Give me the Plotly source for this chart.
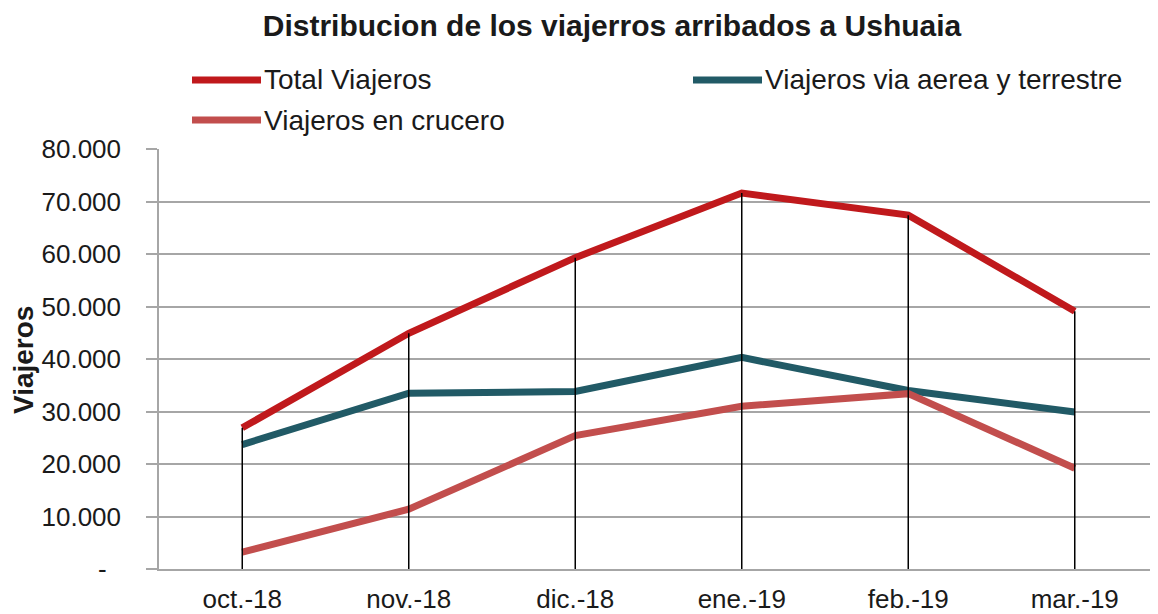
import plotly.graph_objects as go

categories = ["oct.-18", "nov.-18", "dic.-18", "ene.-19", "feb.-19", "mar.-19"]
total_viajeros = [26900, 44900, 59300, 71600, 67400, 49100]
via_aerea_terrestre = [23700, 33500, 33800, 40300, 34000, 29900]
en_crucero = [3200, 11400, 25400, 31000, 33400, 19200]
tick_vals = [0, 10000, 20000, 30000, 40000, 50000, 60000, 70000, 80000]
tick_text = ["-\u00a0\u00a0", "10.000", "20.000", "30.000", "40.000",
             "50.000", "60.000", "70.000", "80.000"]

C_TOTAL = "#C0191C"
C_AEREA = "#215A66"
C_CRUC = "#C24E4D"
FONT = "Liberation Sans, Arial, sans-serif"
TXT = "#1a1a1a"

# page body has an 8px margin; figure placed at (8, 8)
OFF = 8
W, H = 1158 - OFF, 614 - OFF
L, R, T, B = 159 - OFF, 0, 149 - OFF, 614 - 569
pw, ph = W - L - R, H - T - B


def px(x):  # page pixel -> paper x
    return (x - OFF - L) / pw


def py(y):  # page pixel -> paper y
    return (H - B - (y - OFF)) / ph


fig = go.Figure()
fig.add_trace(go.Scatter(x=categories, y=total_viajeros, mode="lines",
                         line=dict(color=C_TOTAL, width=7), name="Total Viajeros",
                         showlegend=False))
fig.add_trace(go.Scatter(x=categories, y=via_aerea_terrestre, mode="lines",
                         line=dict(color=C_AEREA, width=7),
                         name="Viajeros via aerea y terrestre", showlegend=False))
fig.add_trace(go.Scatter(x=categories, y=en_crucero, mode="lines",
                         line=dict(color=C_CRUC, width=7), name="Viajeros en crucero",
                         showlegend=False))

# drop lines from the highest series to the axis
dx, dy = [], []
for c, v in zip(categories, total_viajeros):
    dx += [c, c, None]
    dy += [0, v, None]
fig.add_trace(go.Scatter(x=dx, y=dy, mode="lines", line=dict(color="black", width=1.5),
                         showlegend=False, hoverinfo="skip"))

# manual legend
legend_items = [
    ("Total Viajeros", C_TOTAL, 192, 80),
    ("Viajeros via aerea y terrestre", C_AEREA, 693, 80),
    ("Viajeros en crucero", C_CRUC, 192, 120),
]
shapes = []
annotations = []
for text, col, x0, yc in legend_items:
    shapes.append(dict(type="line", xref="paper", yref="paper",
                       x0=px(x0), x1=px(x0 + 69), y0=py(yc), y1=py(yc),
                       line=dict(color=col, width=7)))
    annotations.append(dict(text=text, xref="paper", yref="paper",
                            x=px(x0 + 70), y=py(yc), xanchor="left", yanchor="middle",
                            showarrow=False, font=dict(family=FONT, size=28, color=TXT)))

annotations.append(dict(text="<b>Viajeros</b>", xref="paper", yref="paper",
                        x=px(23), y=py(360), xanchor="center", yanchor="middle",
                        textangle=-90, showarrow=False,
                        font=dict(family=FONT, size=28, color=TXT)))

fig.update_layout(
    width=W, height=H,
    margin=dict(l=L, r=R, t=T, b=B, pad=0),
    paper_bgcolor="white", plot_bgcolor="white",
    showlegend=False,
    title=dict(text="<b>Distribucion de los viajerros arribados a Ushuaia</b>",
               x=(612 - OFF) / W, xanchor="center", y=1 - (25 - OFF) / H, yanchor="middle",
               font=dict(family=FONT, size=30, color=TXT)),
    shapes=shapes,
    annotations=annotations,
    xaxis=dict(type="category", range=[-0.5, 5.5], showgrid=False,
               showline=True, linecolor="#A6A6A6", linewidth=1.5,
               ticks="", tickfont=dict(family=FONT, size=26, color=TXT),
               ticklabelstandoff=6, zeroline=False),
    yaxis=dict(range=[0, 80000], tickvals=tick_vals, ticktext=tick_text,
               showgrid=True, gridcolor="#A6A6A6", gridwidth=1.5,
               showline=True, linecolor="#A6A6A6", linewidth=1.5,
               ticks="outside", ticklen=11, tickcolor="#A6A6A6", tickwidth=1.5,
               tickfont=dict(family=FONT, size=26, color=TXT),
               ticklabelstandoff=20, zeroline=False),
)

fig.write_html("out.html")
